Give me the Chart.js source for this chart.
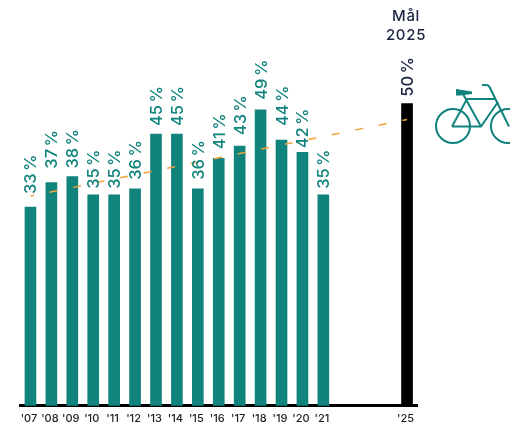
<!DOCTYPE html>
<html>
<head>
<meta charset="utf-8">
<style>
  html, body { margin: 0; padding: 0; background: #fff; }
  #wrap { position: relative; width: 514px; height: 425px; overflow: hidden; }
  #bike { position: absolute; left: 0; top: 0; }
</style>
</head>
<body>
<div id="wrap">
  <canvas id="chart" width="514" height="431"></canvas>
  <svg id="bike" width="510" height="425" fill="none" stroke="#10837c" stroke-width="2">
    <circle cx="453" cy="126" r="17"/>
    <circle cx="508" cy="126" r="17"/>
    <path d="M452 126.500H481L498 102M452 126.500L467 99H495M463 94L481 126.500"/>
    <path d="M482 85H486Q489 85 490 88L509 126.500"/>
    <path d="M456 89L472 91.500V94L460 95.500H456Z" fill="#10837c" stroke="none"/>
  </svg>
</div>
<script src="https://cdn.jsdelivr.net/npm/chart.js@4"></script>
<script>
const years = ["'07", "'08", "'09", "'10", "'11", "'12", "'13", "'14", "'15", "'16", "'17", "'18", "'19", "'20", "'21", '', '', '', "'25"];
const shares = [33, 37, 38, 35, 35, 36, 45, 45, 36, 41, 43, 49, 44, 42, 35, null, null, null, 50];
const trend = [34.8, null, null, null, null, null, null, null, null, null, null, null, null, null, null, null, null, null, 47.4];

const TEAL = '#10837c';
const NAVY = '#1a2340';
const FONT = 'Inter, sans-serif';

// gap between bar top and rotated label, the original places these by hand
const labelGaps = [13, 14, 8, 6, 6, 9, 8, 8, 9, 9, 11, 10, 14, 4, 6, 0, 0, 0, 7];

const barLabels = {
  id: 'barLabels',
  afterDatasetsDraw(chart) {
    const { ctx } = chart;
    const bars = chart.getDatasetMeta(0).data;
    ctx.save();
    bars.forEach((bar, i) => {
      if (shares[i] === null) return;
      ctx.save();
      ctx.translate(bar.x, bar.y - labelGaps[i]);
      ctx.rotate(-Math.PI / 2);
      ctx.font = `500 16.500px ${FONT}`;
      ctx.letterSpacing = '0px';
      ctx.wordSpacing = '-2px';
      ctx.textAlign = 'left';
      ctx.textBaseline = 'alphabetic';
      ctx.fillStyle = i === bars.length - 1 ? NAVY : TEAL;
      ctx.fillText(`${shares[i]} %`, 0, 6);
      ctx.restore();
    });
    const last = bars[bars.length - 1];
    ctx.font = `500 15px ${FONT}`;
    ctx.letterSpacing = '0.7px';
    ctx.wordSpacing = '0px';
    ctx.textAlign = 'center';
    ctx.textBaseline = 'middle';
    ctx.fillStyle = NAVY;
    ctx.fillText('Mål', last.x - 1, 16);
    ctx.fillText('2025', last.x - 1, 35);
    ctx.restore();
  },
};

new Chart(document.getElementById('chart'), {
  type: 'bar',
  plugins: [barLabels],
  data: {
    labels: years,
    datasets: [
      {
        type: 'bar',
        order: 1,
        data: shares,
        barThickness: 11,
        backgroundColor: shares.map((_, i) => (i === shares.length - 1 ? '#000000' : TEAL)),
      },
      {
        type: 'line',
        order: 0,
        data: trend,
        spanGaps: true,
        borderColor: '#f4a23c',
        borderWidth: 1.5,
        borderDash: [8, 16],
        borderDashOffset: 4.5,
        pointRadius: 0,
      },
    ],
  },
  options: {
    responsive: false,
    animation: false,
    layout: { padding: { left: 20, right: 96.5, top: 6, bottom: 0 } },
    plugins: { legend: { display: false }, tooltip: { enabled: false } },
    scales: {
      x: {
        grid: { display: false, drawTicks: false },
        border: { color: '#000000', width: 3 },
        ticks: {
          autoSkip: false,
          maxRotation: 0,
          padding: 6,
          labelOffset: -1.5,
          color: '#222222',
          font: { family: FONT, size: 11, weight: '500' },
        },
      },
      y: { display: false, min: 0.3, max: 66.06 },
    },
  },
});
</script>
</body>
</html>
